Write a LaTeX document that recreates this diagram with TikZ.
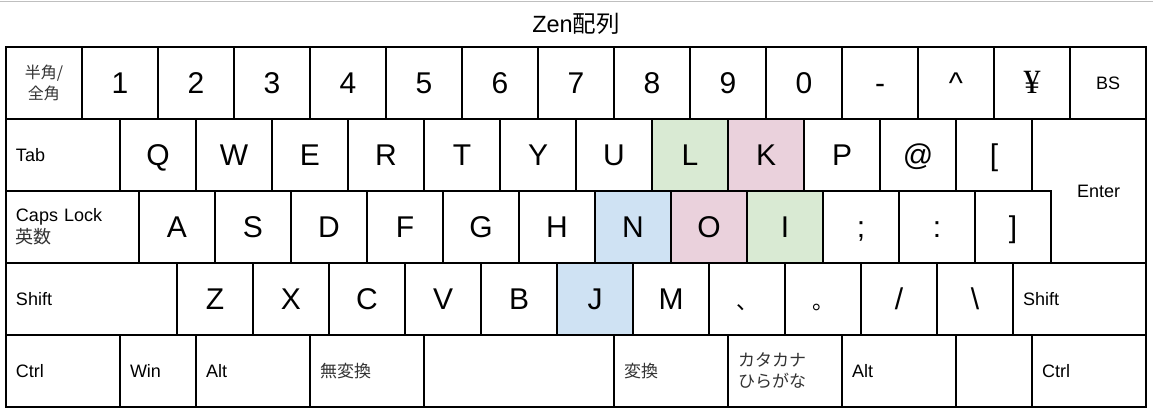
\documentclass[tikz,border=0pt]{standalone}
\usepackage{fontspec}
\setmainfont{Liberation Sans}
\newfontfamily\cjk{Noto Sans CJK JP}
\newfontfamily\yenfont{Liberation Serif}
\usetikzlibrary{positioning}
\definecolor{zgreen}{HTML}{D9EAD3}
\definecolor{zpink}{HTML}{EAD1DC}
\definecolor{zblue}{HTML}{CFE2F3}

\begin{document}
\begin{tikzpicture}[
    x=1pt, y=-1pt, line width=1.6pt,
    base/.style={draw, fill=white, outer sep=0pt, inner sep=0pt, minimum width=76pt, minimum height=72pt},
    key/.style={base, font=\fontsize{30}{36}\selectfont, text height=21.5pt, text depth=0pt},
    small/.style={base, font=\fontsize{18}{22}\selectfont},
    mod/.style={small, inner xsep=10pt, text width=#1, align=left},
    jp/.style={font={\cjk\fontsize{17}{21}\selectfont}, text=black!80},
    punct/.style={font={\cjk\fontsize{22}{26}\selectfont}},
  ]
  \useasboundingbox (0,0) rectangle (1153,419);
  \draw[line width=0.8pt, black!25] (0,1) -- (1153,1);
  \node[font={\fontsize{23.5}{28}\selectfont}] (title) at (576,24) {Zen{\cjk 配列}};

  % row 1
  \node[small, jp, font={\cjk\fontsize{16}{21}\selectfont}, align=center, anchor=north west] (r1-0) at (6,47) {半角/\\全角};
  \foreach \t [count=\i, remember=\i as \p (initially 0)] in {1,2,3,4,5,6,7,8,9,0,-,\textasciicircum,{\yenfont\fontsize{34}{36}\selectfont ¥}}
    \node[key, right=0pt of r1-\p] (r1-\i) {\t};
  \node[small, right=0pt of r1-13] (bs) {BS};

  % row 2
  \node[mod=94pt, anchor=north west] (r2-0) at (6,119) {Tab};
  \foreach \t/\f [count=\i, remember=\i as \p (initially 0)] in {Q/white,W/white,E/white,R/white,T/white,Y/white,U/white,L/zgreen,K/zpink,P/white,@/white,{[}/white}
    \node[key, fill=\f, right=0pt of r2-\p] (r2-\i) {\t};

  % row 3
  \node[mod=113pt, anchor=north west] (r3-0) at (6,191) {Caps Lock\\{\cjk\color{black!80}英数}};
  \foreach \t/\f [count=\i, remember=\i as \p (initially 0)] in {A/white,S/white,D/white,F/white,G/white,H/white,N/zblue,O/zpink,I/zgreen,;/white,:/white,{]}/white}
    \node[key, fill=\f, right=0pt of r3-\p] (r3-\i) {\t};

  % enter
  \node[small, draw=none, fill=none, minimum width=95pt, minimum height=144pt, anchor=south west] (enter) at (r3-12.south east) {Enter};
  \draw (r2-12.north east) -- (enter.north east) -- (enter.south east) -- (enter.south west) -- (r3-12.north east) -- (r2-12.south east);

  % row 4
  \node[mod=151pt, anchor=north west] (r4-0) at (6,263) {Shift};
  \foreach \t/\f [count=\i, remember=\i as \p (initially 0)] in {Z/white,X/white,C/white,V/white,B/white,J/zblue,M/white}
    \node[key, fill=\f, right=0pt of r4-\p] (r4-\i) {\t};
  \node[key, punct, right=0pt of r4-7] (r4-8) {、};
  \node[key, punct, right=0pt of r4-8] (r4-9) {。};
  \node[key, right=0pt of r4-9] (r4-10) {/};
  \node[key, right=0pt of r4-10] (r4-11) {\textbackslash};
  \node[mod=113pt, right=0pt of r4-11] (rshift) {Shift};

  % row 5
  \node[mod=94pt, anchor=north west] (lctrl) at (6,335) {Ctrl};
  \node[mod=56pt, right=0pt of lctrl] (win) {Win};
  \node[mod=94pt, right=0pt of win] (lalt) {Alt};
  \node[mod=94pt, jp, right=0pt of lalt] (muhenkan) {無変換};
  \node[base, minimum width=190pt, right=0pt of muhenkan] (space) {};
  \node[mod=94pt, jp, right=0pt of space] (henkan) {変換};
  \node[mod=94pt, jp, right=0pt of henkan] (kana) {カタカナ\\ひらがな};
  \node[mod=94pt, right=0pt of kana] (ralt) {Alt};
  \node[base, right=0pt of ralt] (blank) {};
  \node[mod=94pt, right=0pt of blank] (rctrl) {Ctrl};
\end{tikzpicture}
\end{document}
